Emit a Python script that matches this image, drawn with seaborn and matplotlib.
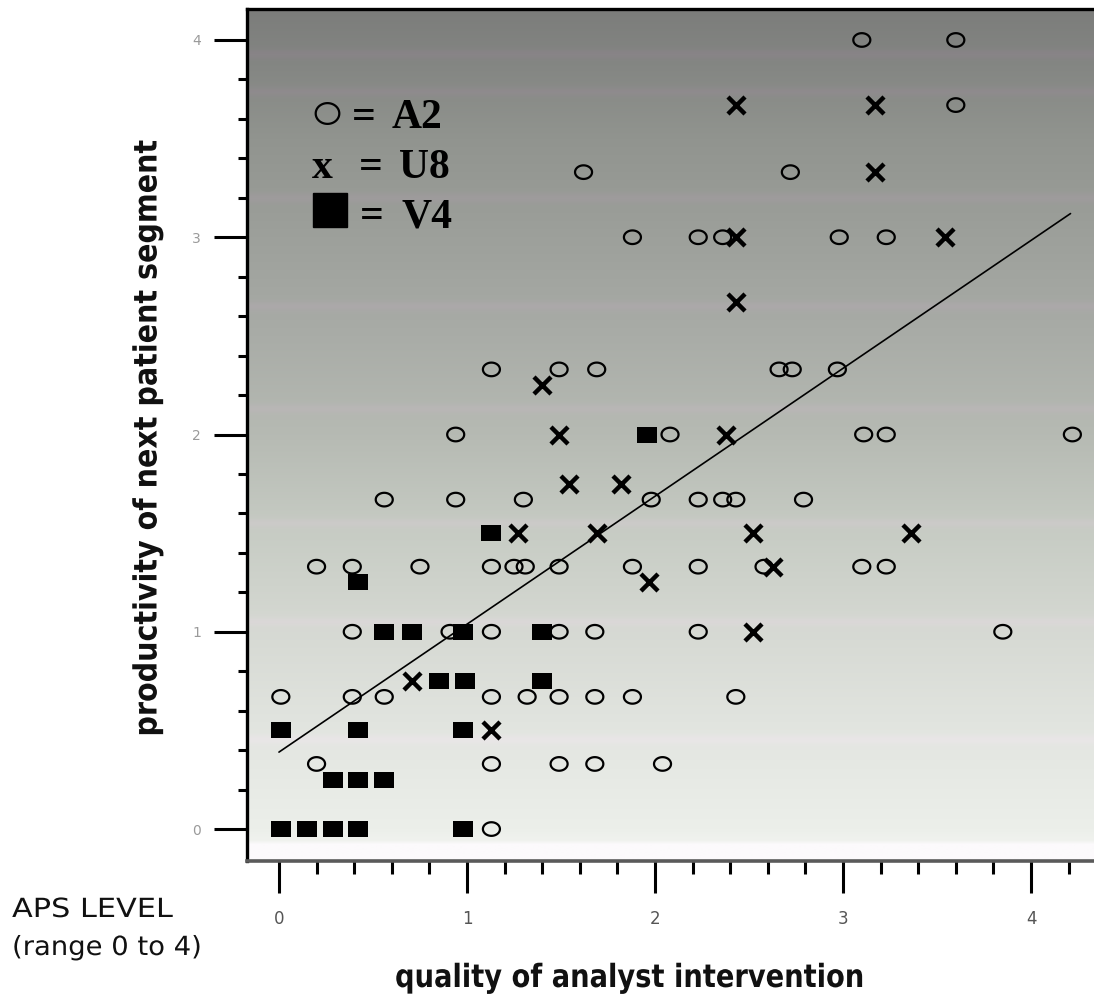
import numpy as np
import pandas as pd
import matplotlib
matplotlib.use("Agg")
import matplotlib.pyplot as plt
import seaborn as sns
from matplotlib.path import Path
from matplotlib.lines import Line2D
from matplotlib.patheffects import AbstractPathEffect
from matplotlib.transforms import Affine2D

# ---------------- data ----------------
a2_x = [3.10, 3.60,
        3.60,
        1.62, 2.72,
        1.88, 2.23, 2.36, 2.98, 3.23,
        1.13, 1.49, 1.69, 2.66, 2.73, 2.97,
        0.94, 2.08, 3.11, 3.23, 4.22,
        0.56, 0.94, 1.30, 1.98, 2.23, 2.36, 2.43, 2.79,
        0.20, 0.39, 0.75, 1.13, 1.25, 1.31, 1.49, 1.88, 2.23, 2.58, 3.10, 3.23,
        0.39, 0.91, 1.13, 1.49, 1.68, 2.23, 3.85,
        0.01, 0.39, 0.56, 1.13, 1.32, 1.49, 1.68, 1.88, 2.43,
        0.20, 1.13, 1.49, 1.68, 2.04,
        1.13]
a2_y = [4.0, 4.0,
        3.67,
        3.33, 3.33,
        3.0, 3.0, 3.0, 3.0, 3.0,
        2.33, 2.33, 2.33, 2.33, 2.33, 2.33,
        2.0, 2.0, 2.0, 2.0, 2.0,
        1.67, 1.67, 1.67, 1.67, 1.67, 1.67, 1.67, 1.67,
        1.33, 1.33, 1.33, 1.33, 1.33, 1.33, 1.33, 1.33, 1.33, 1.33, 1.33, 1.33,
        1.0, 1.0, 1.0, 1.0, 1.0, 1.0, 1.0,
        0.67, 0.67, 0.67, 0.67, 0.67, 0.67, 0.67, 0.67, 0.67,
        0.33, 0.33, 0.33, 0.33, 0.33,
        0.0]

u8_x = [2.43, 3.17, 3.17, 2.43, 3.54, 2.43, 1.40, 1.49, 2.38, 1.54, 1.82,
        1.27, 1.69, 2.52, 3.36, 2.63, 1.97, 2.52, 0.71, 1.13]
u8_y = [3.67, 3.67, 3.33, 3.0, 3.0, 2.67, 2.25, 2.0, 2.0, 1.75, 1.75,
        1.5, 1.5, 1.5, 1.5, 1.33, 1.25, 1.0, 0.75, 0.5]

v4_x = [1.96, 1.13, 0.42, 0.56, 0.71, 0.98, 1.40, 0.85, 0.99, 1.40,
        0.01, 0.42, 0.98, 0.29, 0.42, 0.56, 0.01, 0.15, 0.29, 0.42, 0.98]
v4_y = [2.0, 1.5, 1.25, 1.0, 1.0, 1.0, 1.0, 0.75, 0.75, 0.75,
        0.5, 0.5, 0.5, 0.25, 0.25, 0.25, 0.0, 0.0, 0.0, 0.0, 0.0]

fit_x = [0.0, 4.21]
fit_y = [0.39, 3.12]

x_ticks = [0, 1, 2, 3, 4]
y_ticks = [0, 1, 2, 3, 4]
x_label = "quality of analyst intervention"
y_label = "productivity of next patient segment"
legend_names = ["A2", "U8", "V4"]
note_lines = ["APS LEVEL", "(range 0 to 4)"]


class Squeeze(AbstractPathEffect):
    """Scale rendered glyphs about a display point (keeps the text a real Text)."""

    def __init__(self, sx=1.0, sy=1.0, cx=0.0, cy=0.0):
        super().__init__((0, 0))
        self._sx, self._sy, self._cx, self._cy = sx, sy, cx, cy

    def draw_path(self, renderer, gc, tpath, affine, rgbFace=None):
        extra = (Affine2D().translate(-self._cx, -self._cy)
                 .scale(self._sx, self._sy).translate(self._cx, self._cy))
        renderer.draw_path(gc, tpath, affine + extra, rgbFace)


# ---------------- figure ----------------
sns.set_style("white")
W, H = 1094, 994
fig = plt.figure(figsize=(W / 100, H / 100), dpi=100)
fig.patch.set_facecolor("white")


def fx(px):
    return px / W


def fy(py):
    return 1 - py / H


ax_l, ax_r, ax_t, ax_b = 247, 1094, 9, 861
ax = fig.add_axes([fx(ax_l), fy(ax_b), (ax_r - ax_l) / W, (ax_b - ax_t) / H])

xlim = (-0.170, 4.335)
ylim = (-0.162, 4.157)

# background gradient with faint banding
n = 800
yy = np.linspace(ylim[0], ylim[1], n)
stops_y = [-0.162, -0.08, -0.06, 0.0, 0.5, 1.0, 1.5, 2.0, 2.5, 3.0, 3.5, 3.9, 4.157]
stops_r = [252, 252, 240, 236, 226, 214, 199, 182, 169, 157, 145, 131, 124]
stops_g = [250, 250, 242, 239, 229, 217, 204, 186, 172, 160, 148, 133, 125]
stops_b = [252, 252, 238, 234, 224, 211, 196, 179, 167, 155, 143, 130, 123]
r = np.interp(yy, stops_y, stops_r)
g = np.interp(yy, stops_y, stops_g)
b = np.interp(yy, stops_y, stops_b)
bands = [3.93, 3.74, 3.20, 2.65, 2.13, 1.55, 1.05, 0.45]
for bc in bands:
    w = np.exp(-((yy - bc) / 0.025) ** 2)
    r += 6 * w
    b += 6 * w
img = np.stack([r, g, b], axis=1)[:, None, :] / 255.0
img = np.clip(np.repeat(img, 2, axis=1), 0, 1)
ax.imshow(img, extent=[xlim[0], xlim[1], ylim[0], ylim[1]], origin="lower",
          aspect="auto", zorder=0, interpolation="bilinear")

# marker shapes
t = np.linspace(0, 2 * np.pi, 60)
ellipse = Path(np.column_stack([np.cos(t), 0.80 * np.sin(t)]), closed=True)
ellipse_leg = Path(np.column_stack([np.cos(t), 0.88 * np.sin(t)]), closed=True)
rect = Path([(-1, -0.85), (1, -0.85), (1, 0.85), (-1, 0.85), (-1, -0.85)], closed=True)

df_a = pd.DataFrame({"x": a2_x, "y": a2_y})
df_u = pd.DataFrame({"x": u8_x, "y": u8_y})
df_v = pd.DataFrame({"x": v4_x, "y": v4_y})
df_fit = pd.DataFrame({"x": fit_x, "y": fit_y})

sns.lineplot(data=df_fit, x="x", y="y", ax=ax, color="black", linewidth=1.2, zorder=3)
sns.scatterplot(data=df_v, x="x", y="y", ax=ax, marker=rect, s=200,
                color="black", edgecolor="black", linewidth=0, zorder=4)
sns.scatterplot(data=df_a, x="x", y="y", ax=ax, marker=ellipse, s=150,
                facecolor="none", edgecolor="black", linewidth=1.6, zorder=5)
sns.scatterplot(data=df_u, x="x", y="y", ax=ax, marker="x", s=150,
                color="black", linewidth=3.2, zorder=6)

ax.set_xlim(*xlim)
ax.set_ylim(*ylim)
ax.set_xlabel("")
ax.set_ylabel("")

# spines
for s in ["left", "top"]:
    ax.spines[s].set_visible(True)
    ax.spines[s].set_color("black")
    ax.spines[s].set_linewidth(2.4)
ax.spines["bottom"].set_visible(True)
ax.spines["bottom"].set_color("#5a5a5a")
ax.spines["bottom"].set_linewidth(2.6)
ax.spines["right"].set_visible(False)

# ticks
ax.set_xticks(x_ticks)
ax.set_yticks(y_ticks)
ax.set_xticks(np.arange(0, 4.3, 0.2), minor=True)
ax.set_yticks(np.arange(0, 4.1, 0.2), minor=True)
ax.tick_params(axis="x", which="major", direction="out", length=23, width=2.2,
               color="black", labelsize=12, labelcolor="#555555", pad=12,
               bottom=True, top=False)
ax.tick_params(axis="x", which="minor", direction="out", length=9, width=2.2,
               color="black", bottom=True, top=False)
ax.tick_params(axis="y", which="major", direction="out", length=24, width=2.2,
               color="black", labelsize=10, labelcolor="#9a9a9a", pad=9,
               left=True, right=False)
ax.tick_params(axis="y", which="minor", direction="out", length=6.5, width=2.2,
               color="black", left=True, right=False)
ax.set_xticklabels([str(v) for v in x_ticks])
ax.set_yticklabels([str(v) for v in y_ticks])

# axis titles (bold, drawn slightly condensed)
xl = fig.text(fx(630), fy(987), x_label, ha="center", va="baseline",
              fontsize=23, fontweight="bold", family="DejaVu Sans", color="#111111")
xl.set_path_effects([Squeeze(sx=0.855, cx=630, cy=H - 987)])
yl = fig.text(fx(148), fy(438), y_label, ha="center", va="center", rotation=90,
              fontsize=23, fontweight="bold", family="DejaVu Sans", color="#111111")
yl.set_path_effects([Squeeze(sy=0.895, cx=148, cy=H - 438)])

# APS LEVEL note
n1 = fig.text(fx(12), fy(917), note_lines[0], ha="left", va="baseline",
              fontsize=19, family="DejaVu Sans", color="#111111")
n1.set_path_effects([Squeeze(sx=1.15, cx=12, cy=H - 917)])
n2 = fig.text(fx(12), fy(955), note_lines[1], ha="left", va="baseline",
              fontsize=19, family="DejaVu Sans", color="#111111")
n2.set_path_effects([Squeeze(sx=1.04, cx=12, cy=H - 955)])

# legend block (symbols + text)
serif = ["Liberation Serif", "DejaVu Serif"]
big = dict(fontsize=30, fontweight="bold", family=serif, color="black",
           ha="left", va="baseline")
fig.add_artist(Line2D([fx(327)], [fy(113)], marker=ellipse_leg, markersize=17,
                      markerfacecolor="none", markeredgecolor="black",
                      markeredgewidth=1.6, linestyle="none",
                      transform=fig.transFigure))
fig.text(fx(352), fy(128), "=", **big)
fig.text(fx(392), fy(128), legend_names[0], **big)

fig.text(fx(312), fy(178), "x", **big)
fig.text(fx(359), fy(178), "=", **big)
fig.text(fx(399), fy(178), legend_names[1], **big)

fig.add_artist(Line2D([fx(330)], [fy(210)], marker="s", markersize=24,
                      markerfacecolor="black", markeredgecolor="black",
                      linestyle="none", transform=fig.transFigure))
fig.text(fx(360), fy(227), "=", **big)
fig.text(fx(401), fy(227), legend_names[2], **big)

fig.savefig("out.png", dpi=100, facecolor="white")
